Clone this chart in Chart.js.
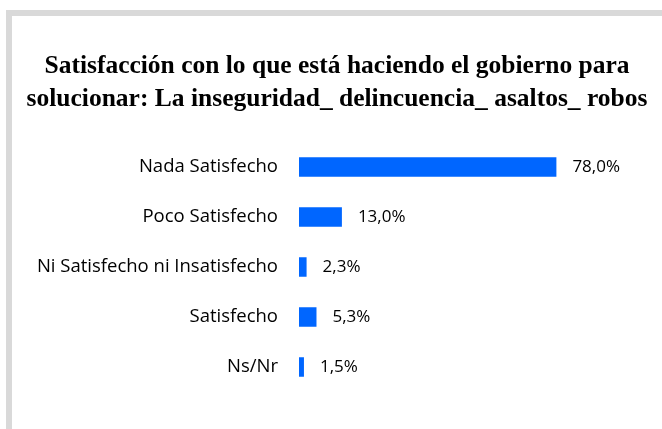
<!DOCTYPE html>
<html>
<head>
<meta charset="utf-8">
<script src="https://cdn.jsdelivr.net/npm/chart.js@4"></script>
<style>
  html, body { margin: 0; padding: 0; background: #fff; }
  body { width: 662px; height: 429px; overflow: hidden; position: relative; }
  .frame { position: absolute; left: 6px; top: 10px; width: 700px; height: 500px;
           border-left: 6px solid #d9d9d9; border-top: 6px solid #d9d9d9; }
  .box { position: absolute; left: 12px; top: 16px; width: 650px; height: 413px; }
</style>
</head>
<body>
<div class="frame"></div>
<div class="box"><canvas id="myChart"></canvas></div>
<script>
// categories and values (percent)
let labels1 = ['Nada Satisfecho', 'Poco Satisfecho', 'Ni Satisfecho ni Insatisfecho', 'Satisfecho', 'Ns/Nr'];
let data1 = [78.0, 13.0, 2.3, 5.3, 1.5];

let titleLines = ['Satisfacción con lo que está haciendo el gobierno para',
                  'solucionar: La inseguridad_ delincuencia_ asaltos_ robos'];

// value labels to the right of each bar
let valueLabels = {
    id: 'valueLabels',
    afterDatasetsDraw(chart) {
        let ctx = chart.ctx;
        let meta = chart.getDatasetMeta(0);
        ctx.save();
        ctx.font = '17px "Open Sans"';
        ctx.fillStyle = '#000';
        ctx.textAlign = 'left';
        ctx.textBaseline = 'middle';
        meta.data.forEach(function (bar, i) {
            let txt = data1[i].toFixed(1).replace('.', ',') + '%';
            ctx.fillText(txt, bar.x + 16, bar.y);
        });
        ctx.restore();
    }
};

let myChart1 = document.getElementById('myChart').getContext('2d');

let chart1 = new Chart(myChart1, {
    type: 'bar',
    data: {
        labels: labels1,
        datasets: [{
            data: data1,
            backgroundColor: '#0066ff',
            borderWidth: 0,
            categoryPercentage: 1,
            barPercentage: 0.39
        }]
    },
    options: {
        indexAxis: 'y',
        responsive: true,
        maintainAspectRatio: false,
        animation: false,
        layout: { padding: { left: 0, right: 0, top: 0, bottom: 37 } },
        plugins: {
            legend: { display: false },
            tooltip: { enabled: false },
            title: {
                display: true,
                text: titleLines,
                color: '#000',
                font: { family: '"Liberation Serif"', size: 25.5, weight: 'bold', lineHeight: 33 / 25.5 },
                padding: { top: 34, bottom: 26 }
            }
        },
        scales: {
            x: { display: false, min: 0, max: 110 },
            y: {
                grid: { display: false, drawTicks: false },
                border: { display: false },
                ticks: { color: '#000', padding: 21, font: { family: '"Open Sans"', size: 18.5 } },
                afterFit: function (scale) { scale.width = 287; }
            }
        }
    },
    plugins: [valueLabels]
});
</script>
</body>
</html>
